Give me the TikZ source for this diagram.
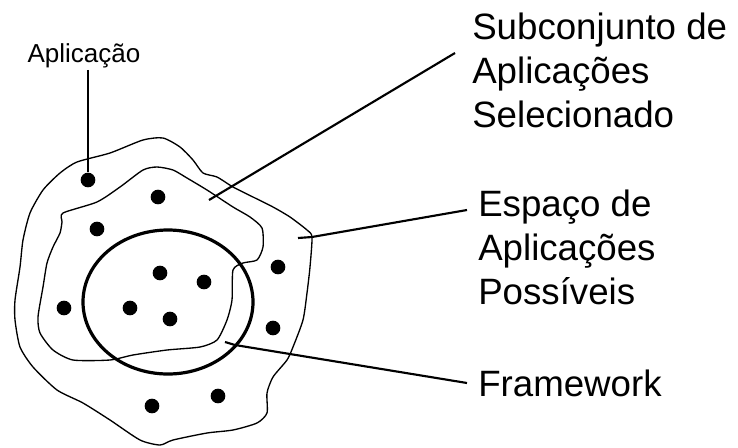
\documentclass[tikz,border=0pt]{standalone}
\usepackage{fontspec}
\setmainfont{Liberation Sans}
\usetikzlibrary{positioning}
\tikzset{font=\fontsize{27.5}{33}\selectfont}
\tikzset{dot/.style={circle, fill=black, inner sep=0pt, minimum size=11pt}}
\tikzset{label/.style={anchor=north west, inner sep=0pt, align=left}}
\tikzset{leader/.style={line width=1.6pt}}

\begin{document}
\begin{tikzpicture}[x=0.75pt, y=-0.75pt]
  \useasboundingbox (0,0) rectangle (738,447);

  % espaco de aplicacoes possiveis
  \draw[line width=1pt] plot[smooth cycle, tension=0.4] coordinates {
    (77,162) (110,153) (143,140) (163,138) (180,147) (193,160) (203,173)
    (217,177) (233,187) (253,197) (273,207) (290,217) (307,230) (312,237)
    (310,267) (307,293) (303,320) (293,347) (287,360) (273,377) (267,393)
    (267,413) (257,423) (233,430) (207,433) (173,440) (160,445) (140,440)
    (110,420) (83,403) (57,390) (33,367) (20,347) (15,320) (15,300)
    (20,267) (23,240) (30,213) (43,190) (60,173)};

  % subconjunto selecionado
  \draw[line width=1pt] plot[smooth cycle, tension=0.4] coordinates {
    (63,213) (97,202) (120,187) (143,170) (157,167) (173,170) (187,178)
    (207,190) (233,207) (250,217) (262,228) (263,247) (257,260) (243,263)
    (233,270) (232,300) (227,320) (217,340) (200,347) (167,350) (133,355)
    (110,360) (73,360) (53,350) (40,333) (38,317) (43,287) (47,263)
    (53,247) (60,233) (62,222)};

  % framework
  \draw[line width=2.4pt] (168,302) ellipse [x radius=85, y radius=72];

  % aplicacoes
  \node[dot] (d1) at (88,180) {};
  \node[dot] (d2) at (158,197) {};
  \node[dot] (d3) at (97,229) {};
  \node[dot] (d4) at (160,273) {};
  \node[dot] (d5) at (204,282) {};
  \node[dot] (d6) at (278,267) {};
  \node[dot] (d7) at (64,308) {};
  \node[dot] (d8) at (130,308) {};
  \node[dot] (d9) at (170,319) {};
  \node[dot] (d10) at (273,328) {};
  \node[dot] (d11) at (152,406) {};
  \node[dot] (d12) at (218,396) {};

  % rotulos
  \node[font=\fontsize{19.5}{22}\selectfont, inner sep=1pt] (apl) at (84,56) {Aplicação};
  \node[label] (sub) at (472,13) {Subconjunto de\\Aplicações\\Selecionado};
  \node[label] (esp) at (478,190) {Espaço de\\Aplicações\\Possíveis};
  \node[label] (fw) at (478,370) {Framework};

  \coordinate (subIn) at (209,200);
  \coordinate (espIn) at (298,238);
  \coordinate (fwIn) at (225,342);

  \draw[line width=1pt] (apl.south -| d1) -- (d1);
  \draw[leader] (subIn) -- ([shift={(-17,40)}]sub.north west);
  \draw[leader] (espIn) -- (312,237) -- ([shift={(-11,20)}]esp.north west);
  \draw[leader] (fwIn) -- (235,345) -- ([shift={(-11,13)}]fw.north west);
\end{tikzpicture}
\end{document}
